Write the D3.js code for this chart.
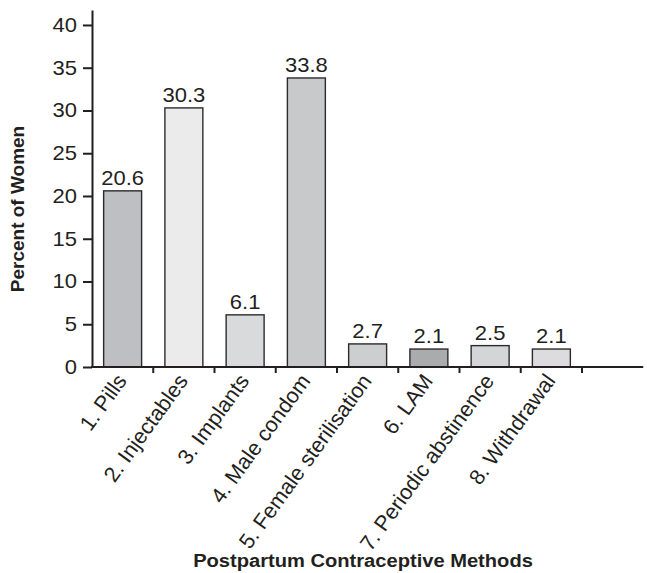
<!DOCTYPE html>
<html>
<head>
<meta charset="utf-8">
<script src="https://cdn.jsdelivr.net/npm/d3@7/dist/d3.min.js"></script>
<style>
  html, body { margin: 0; padding: 0; background: #fff; }
  svg { display: block; font-family: "Liberation Sans", Arial, Helvetica, sans-serif; }
</style>
</head>
<body>
<svg id="chart" width="647" height="573"></svg>
<script>
// Postpartum contraceptive methods used (percent of women)
const categories = [
  "1. Pills", "2. Injectables", "3. Implants", "4. Male condom",
  "5. Female sterilisation", "6. LAM", "7. Periodic abstinence", "8. Withdrawal"
];
const values = [20.6, 30.3, 6.1, 33.8, 2.7, 2.1, 2.5, 2.1];
const barFills = ["#bebfc2", "#ebebeb", "#d9dadc", "#c8c9cb", "#cdcecf", "#aaabad", "#d4d5d7", "#dcdcde"];
const yTicks = [0, 5, 10, 15, 20, 25, 30, 35, 40];
const yAxisTop = 41.75;

const svg = d3.select("#chart");
const ink = "#231f20";
const stretch = 1.1;   // wide lettering

const x = d3.scaleBand().domain(categories).range([92, 582]).paddingInner(0.38).paddingOuter(0.19);
const y = d3.scaleLinear().domain([0, yAxisTop]).range([367, 10]);
const plotRight = x.range()[1] + x.step();

// bars
svg.append("g").selectAll("rect")
  .data(categories)
  .join("rect")
  .attr("x", d => x(d))
  .attr("y", (d, i) => y(values[i]))
  .attr("width", x.bandwidth())
  .attr("height", (d, i) => y(0) - y(values[i]))
  .attr("fill", (d, i) => barFills[i])
  .attr("stroke", "#2b2b2b")
  .attr("stroke-width", 1.4);

// value labels
svg.append("g").selectAll("text")
  .data(categories)
  .join("text")
  .attr("transform", (d, i) => `translate(${x(d) + x.bandwidth() / 2},${y(values[i]) - 6}) scale(${stretch},1)`)
  .attr("text-anchor", "middle")
  .attr("font-size", 20)
  .attr("fill", ink)
  .text((d, i) => values[i].toFixed(1));

// y axis
const yAxis = svg.append("g")
  .attr("transform", "translate(92,0)")
  .call(d3.axisLeft(y).tickValues(yTicks).tickSize(9).tickPadding(6).tickSizeOuter(0));
yAxis.select(".domain").attr("stroke", ink).attr("stroke-width", 2);
yAxis.selectAll(".tick line").attr("stroke", ink).attr("stroke-width", 2);
yAxis.selectAll(".tick text")
  .attr("font-size", 20)
  .attr("font-family", "Liberation Sans, Arial, sans-serif")
  .attr("fill", ink)
  .attr("x", -15 / stretch)
  .attr("transform", `scale(${stretch},1)`);

// x axis line and separators
const xAxis = svg.append("g");
xAxis.append("line")
  .attr("x1", 91).attr("x2", plotRight)
  .attr("y1", y(0)).attr("y2", y(0))
  .attr("stroke", ink).attr("stroke-width", 2);
xAxis.selectAll("line.sep")
  .data(categories)
  .join("line")
  .attr("class", "sep")
  .attr("x1", d => x(d) - x.step() * x.paddingOuter() + x.step())
  .attr("x2", d => x(d) - x.step() * x.paddingOuter() + x.step())
  .attr("y1", y(0)).attr("y2", y(0) + 6)
  .attr("stroke", ink).attr("stroke-width", 2);

// rotated category labels
xAxis.selectAll("text")
  .data(categories)
  .join("text")
  .attr("transform", d => `translate(${x(d) + x.bandwidth() / 2 + 5},${y(0) + 14}) rotate(-54)`)
  .attr("text-anchor", "end")
  .attr("font-size", 21.5)
  .attr("fill", ink)
  .text(d => d);

// axis titles
svg.append("text")
  .attr("transform", `translate(24,209) rotate(-90)`)
  .attr("text-anchor", "middle")
  .attr("font-size", 19)
  .attr("font-weight", "bold")
  .attr("fill", ink)
  .text("Percent of Women");

svg.append("text")
  .attr("transform", `translate(363,567) scale(${stretch},1)`)
  .attr("text-anchor", "middle")
  .attr("font-size", 18.3)
  .attr("font-weight", "bold")
  .attr("fill", ink)
  .text("Postpartum Contraceptive Methods");
</script>
</body>
</html>
